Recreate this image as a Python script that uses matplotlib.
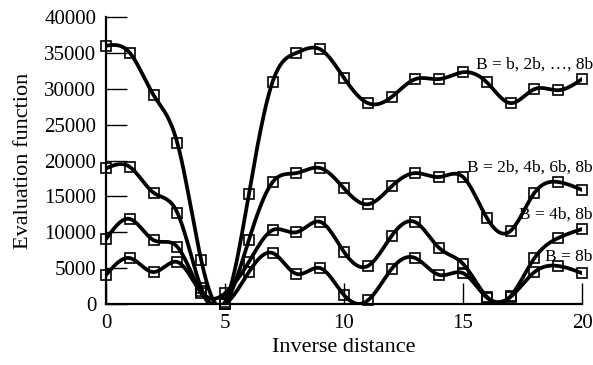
import numpy as np
import matplotlib
matplotlib.use("Agg")
import matplotlib.pyplot as plt

plt.rcParams["font.family"] = ["Liberation Serif", "DejaVu Serif"]

# inverse distance 0..20
x = np.arange(21)
# B = b, 2b, ..., 8b
s_all = [36000, 35000, 29100, 22400, 6100, 300, 15300, 31000, 35000, 35500, 31500,
         28000, 28850, 31350, 31350, 32300, 30900, 28000, 29950, 29800, 31350]
# B = 2b, 4b, 6b, 8b
s_even = [18900, 19100, 15500, 12700, 2200, 0, 8900, 17000, 18250, 18950, 16100,
          13900, 16400, 18250, 17700, 17700, 12000, 10200, 15500, 17000, 15900]
# B = 4b, 8b
s_four = [9050, 11850, 8900, 7950, 1800, 1500, 5850, 10300, 10000, 11450, 7250,
          5300, 9500, 11400, 7800, 5600, 1000, 1100, 6400, 9200, 10450]
# B = 8b
s_eight = [4050, 6400, 4450, 5850, 1500, 0, 4450, 7100, 4200, 5000, 1250,
           500, 4900, 6400, 4050, 4300, 900, 1000, 4450, 5300, 4300]
labels = ["B = b, 2b, \u2026, 8b", "B = 2b, 4b, 6b, 8b", "B = 4b, 8b", "B = 8b"]


def natural_spline(xs, ys, n=400):
    xs = np.asarray(xs, float); ys = np.asarray(ys, float)
    k = len(xs); h = np.diff(xs)
    A = np.zeros((k, k)); r = np.zeros(k)
    A[0, 0] = A[-1, -1] = 1
    for i in range(1, k - 1):
        A[i, i - 1] = h[i - 1]; A[i, i] = 2 * (h[i - 1] + h[i]); A[i, i + 1] = h[i]
        r[i] = 6 * ((ys[i + 1] - ys[i]) / h[i] - (ys[i] - ys[i - 1]) / h[i - 1])
    M = np.linalg.solve(A, r)
    xf = np.linspace(xs[0], xs[-1], n)
    j = np.clip(np.searchsorted(xs, xf) - 1, 0, k - 2)
    t0 = xs[j + 1] - xf; t1 = xf - xs[j]; hj = h[j]
    yf = (M[j] * t0**3 + M[j + 1] * t1**3) / (6 * hj) \
        + (ys[j] / hj - M[j] * hj / 6) * t0 + (ys[j + 1] / hj - M[j + 1] * hj / 6) * t1
    return xf, yf


fig = plt.figure(figsize=(5.93, 3.65), dpi=100)
ax = fig.add_axes([0.1788, 0.1671, 0.8027, 0.7863])

for s in (s_all, s_even, s_four, s_eight):
    xf, yf = natural_spline(x, s)
    ax.plot(xf, yf, color="black", lw=2.7, zorder=2)
    ax.plot(x, s, ls="none", marker="s", ms=6.5, mfc="none", mec="black", mew=1.2,
            zorder=3, clip_on=False)

ax.set_xlim(0, 20)
ax.set_ylim(0, 40000)
ax.set_xticks([0, 5, 10, 15, 20])
ax.set_yticks(range(0, 40001, 5000))
ax.tick_params(direction="in", length=15, width=1, labelsize=15, pad=7)
ax.spines[["top", "right"]].set_visible(False)
ax.spines[["left", "bottom"]].set_linewidth(1.6)

ax.set_xlabel("Inverse distance", fontsize=16, labelpad=4)
ax.set_ylabel("Evaluation function", fontsize=16, labelpad=8)

ax.text(20.45, 33300, labels[0], ha="right", va="center", fontsize=12.5)
ax.text(20.45, 19000, labels[1], ha="right", va="center", fontsize=12.5)
ax.text(20.45, 12400, labels[2], ha="right", va="center", fontsize=12.5)
ax.text(20.45, 6600, labels[3], ha="right", va="center", fontsize=12.5)

fig.savefig("out.png", dpi=100)
